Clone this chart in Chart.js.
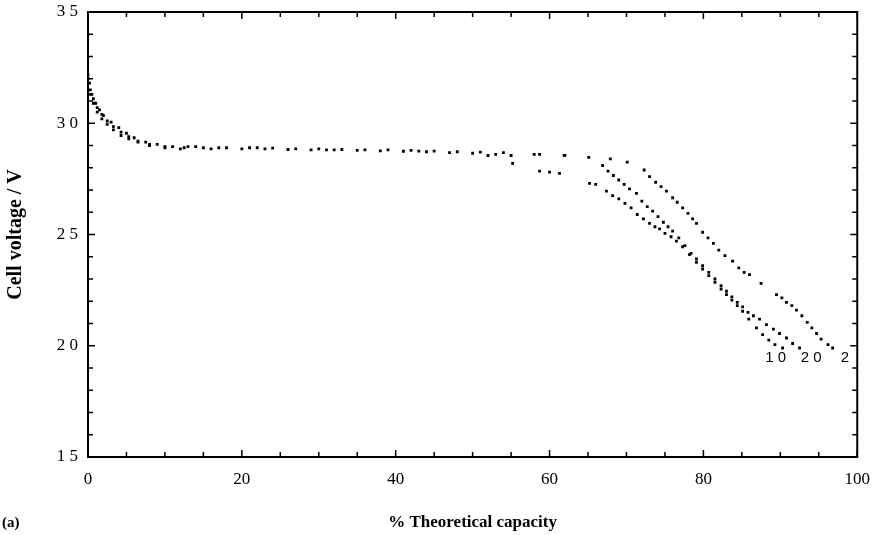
<!DOCTYPE html>
<html>
<head>
<meta charset="utf-8">
<script src="https://cdn.jsdelivr.net/npm/chart.js@4.4.0/dist/chart.umd.min.js"></script>
<style>
  html, body { margin: 0; padding: 0; background: #fff; }
  canvas { display: block; }
</style>
</head>
<body>
<canvas id="dischargeChart" width="882" height="535"></canvas>
<script>
// discharge curves (x = % theoretical capacity, y = cell voltage as printed)
var curveNames = ['2', '20', '10']

var x2 = [0, 0.2, 0.5, 1, 1.5, 2, 3, 4, 5, 6, 7.5, 9, 11, 13, 15, 18, 21, 24, 27, 30, 33, 36, 39, 42, 45, 48, 51, 54, 58, 62, 65.1, 67.9, 70.1,
    72.3, 73, 73.8, 74.5, 75.2, 76, 76.6, 77.3, 78, 78.6, 79.1, 79.9, 80.6, 81.3, 82, 82.8, 83.8, 84.6, 85.3, 86, 87.5,
    89.5, 90.2, 90.8, 91.5, 92.1, 92.8, 93.5, 94.1, 94.7, 95.3, 96.2, 96.8]
var y2 = [32.2, 31.8, 31.3, 30.9, 30.6, 30.35, 30.05, 29.8, 29.55, 29.35, 29.15, 29.05, 28.95, 28.95, 28.9, 28.9, 28.9, 28.88, 28.85, 28.85, 28.82, 28.8, 28.8, 28.78, 28.75, 28.72, 28.7, 28.68, 28.6, 28.56, 28.47, 28.4, 28.25,
    27.9, 27.6, 27.35, 27.15, 26.95, 26.65, 26.45, 26.2, 25.95, 25.7, 25.5, 25.1, 24.85, 24.6, 24.3, 24.05, 23.8, 23.5, 23.3, 23.2, 22.8,
    22.3, 22.15, 21.95, 21.8, 21.6, 21.35, 21.05, 20.8, 20.55, 20.3, 20.05, 19.9]

var x20 = [0, 0.3, 0.7, 1.2, 1.8, 2.5, 3.3, 4.3, 5.3, 6.5, 8, 10, 12.5, 14, 17, 20, 23, 26, 29, 32, 35, 38, 41, 44, 47, 50, 53, 55, 58.7, 61.9,
    66.9, 67.6, 68.3, 69, 69.7, 70.4, 71.3, 72, 72.7, 73.4, 74.1, 74.8, 75.4, 76, 76.8, 77.6, 78.4, 79.1, 79.9, 80.7, 81.5, 82.3, 83, 83.7,
    84.4, 85.1, 85.8, 86.5, 87.3, 88.2, 89.1, 89.9, 90.8, 91.6, 92.5]
var y20 = [32.0, 31.5, 31.1, 30.7, 30.4, 30.1, 29.85, 29.6, 29.4, 29.2, 29.05, 28.95, 28.9, 28.95, 28.9, 28.85, 28.85, 28.82, 28.8, 28.8, 28.78, 28.76, 28.74, 28.72, 28.68, 28.65, 28.6, 28.55, 28.6, 28.56,
    28.1, 27.85, 27.65, 27.45, 27.25, 27.05, 26.85, 26.5, 26.25, 26.05, 25.8, 25.55, 25.35, 25.15, 24.85, 24.5, 24.15, 23.9, 23.6, 23.3, 23.0, 22.7, 22.45, 22.2,
    21.95, 21.75, 21.5, 21.35, 21.2, 20.95, 20.75, 20.55, 20.35, 20.1, 19.9]

var x10 = [0, 0.3, 0.7, 1.2, 1.8, 2.5, 3.3, 4.3, 5.3, 6.5, 8, 10, 12, 16, 22, 31, 43, 52, 55.2, 58.7, 60, 61.3,
    65.2, 66, 67.4, 68.2, 69, 69.8, 70.6, 71.4, 72.2, 73, 73.7, 74.3, 75, 75.8, 76.5, 77.3, 78.2, 79.1, 79.9, 80.7, 81.5, 82.3, 83, 83.7,
    84.4, 85.1, 85.9, 86.9, 87.7, 88.5, 89.3, 90.3]
var y10 = [31.8, 31.3, 30.9, 30.5, 30.2, 29.95, 29.7, 29.45, 29.3, 29.15, 29.0, 28.9, 28.85, 28.85, 28.9, 28.8, 28.75, 28.55, 28.2, 27.85, 27.8, 27.75,
    27.3, 27.25, 26.95, 26.75, 26.6, 26.4, 26.2, 25.9, 25.7, 25.5, 25.35, 25.25, 25.05, 24.9, 24.7, 24.45, 24.1, 23.75, 23.45, 23.15, 22.85, 22.55, 22.3, 22.05,
    21.8, 21.55, 21.2, 20.8, 20.5, 20.25, 20.05, 19.9]

// end-of-curve labels
var endLabels = ['1 0', '2 0', '2']
var endLabelX = [89.4, 94.0, 98.4]
var endLabelY = [19.45, 19.45, 19.45]

var yTicks = [15, 20, 25, 30, 35]
var xTicks = [0, 20, 40, 60, 80, 100]

function pts(xs, ys) {
    var out = []
    for (var i = 0; i < xs.length; i++) out.push({ x: xs[i], y: ys[i] })
    return out
}

var serif = 'Liberation Serif, Times New Roman, serif'

// frame, inward ticks and curve labels
var framePlugin = {
    id: 'frame',
    afterDraw: function (chart) {
        var ctx = chart.ctx
        var a = chart.chartArea
        var xs = chart.scales.x
        var ys = chart.scales.y
        ctx.save()
        ctx.strokeStyle = '#000'
        ctx.lineWidth = 2
        ctx.strokeRect(a.left, a.top, a.right - a.left, a.bottom - a.top)
        ctx.lineWidth = 1.5
        ctx.beginPath()
        for (var v = 0; v <= 100; v += 5) {
            var px = xs.getPixelForValue(v)
            var len = (v % 20 === 0) ? 7 : 5
            ctx.moveTo(px, a.bottom); ctx.lineTo(px, a.bottom - len)
            ctx.moveTo(px, a.top); ctx.lineTo(px, a.top + len)
        }
        for (var w = 15; w <= 35; w += 1) {
            var py = ys.getPixelForValue(w)
            var l2 = (w % 5 === 0) ? 7 : 5
            ctx.moveTo(a.left, py); ctx.lineTo(a.left + l2, py)
            ctx.moveTo(a.right, py); ctx.lineTo(a.right - l2, py)
        }
        ctx.stroke()

        ctx.fillStyle = '#000'
        ctx.font = '15px Liberation Sans, Arial, sans-serif'
        ctx.textAlign = 'center'
        ctx.textBaseline = 'middle'
        for (var i = 0; i < endLabels.length; i++) {
            ctx.fillText(endLabels[i], xs.getPixelForValue(endLabelX[i]), ys.getPixelForValue(endLabelY[i]))
        }
        ctx.font = 'bold 15px ' + serif
        ctx.textAlign = 'left'
        ctx.fillText('(a)', 2, chart.height - 12)
        ctx.restore()
    }
}

var dotStyle = {
    showLine: false,
    pointStyle: 'rect',
    pointRadius: 2,
    pointBorderWidth: 0,
    backgroundColor: '#000',
    borderColor: '#000'
}

new Chart(document.getElementById('dischargeChart').getContext('2d'), {
    type: 'scatter',
    data: {
        datasets: [
            Object.assign({ label: curveNames[0], data: pts(x2, y2) }, dotStyle),
            Object.assign({ label: curveNames[1], data: pts(x20, y20) }, dotStyle),
            Object.assign({ label: curveNames[2], data: pts(x10, y10) }, dotStyle)
        ]
    },
    options: {
        responsive: false,
        animation: false,
        layout: { padding: { top: 0, right: 24, left: 0, bottom: 0 } },
        plugins: { legend: { display: false }, tooltip: { enabled: false } },
        scales: {
            x: {
                type: 'linear',
                min: 0,
                max: 100,
                afterBuildTicks: function (s) { s.ticks = xTicks.map(function (v) { return { value: v } }) },
                afterFit: function (s) { s.height = 78 },
                ticks: { color: '#000', padding: 12, font: { family: serif, size: 17 } },
                grid: { display: false, drawTicks: false },
                border: { display: false },
                title: {
                    display: true,
                    text: '% Theoretical capacity',
                    color: '#000',
                    font: { family: serif, size: 17, weight: 'bold' },
                    padding: { top: 4, bottom: 2 }
                }
            },
            y: {
                type: 'linear',
                min: 15,
                max: 35,
                afterBuildTicks: function (s) { s.ticks = yTicks.map(function (v) { return { value: v } }) },
                afterFit: function (s) { s.width = 88; s.paddingTop = 12; s.paddingBottom = 0 },
                ticks: {
                    color: '#000',
                    padding: 10,
                    font: { family: serif, size: 17 },
                    callback: function (v) { return String(v).split('').join(' ') }
                },
                grid: { display: false, drawTicks: false },
                border: { display: false },
                title: {
                    display: true,
                    text: 'Cell voltage / V',
                    color: '#000',
                    font: { family: serif, size: 20, weight: 'bold' },
                    padding: { top: 4, bottom: 0 }
                }
            }
        }
    },
    plugins: [framePlugin]
})
</script>
</body>
</html>
